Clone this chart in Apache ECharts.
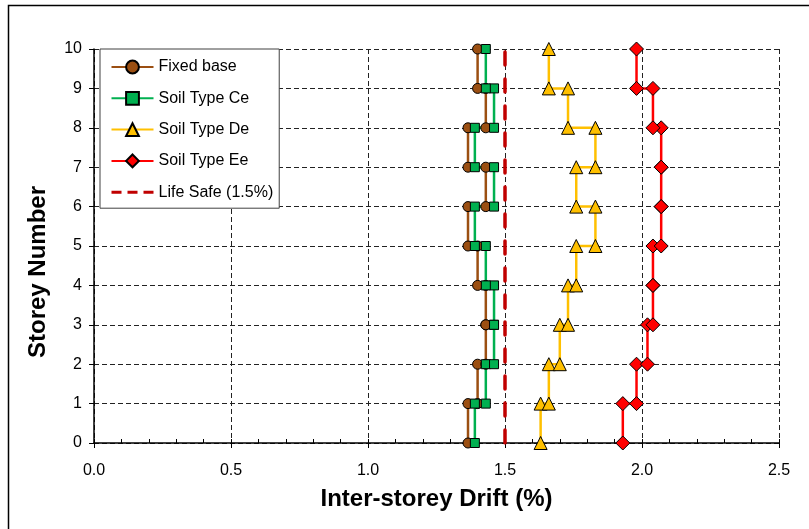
<!DOCTYPE html>
<html>
<head>
<meta charset="utf-8">
<script src="https://cdn.jsdelivr.net/npm/echarts@6/dist/echarts.min.js"></script>
<style>
  html, body { margin: 0; padding: 0; background: #fff; }
  #chart { width: 809px; height: 529px; }
</style>
</head>
<body>
<div id="chart"></div>
<script>
// storey numbers and inter-storey drift (%) for each storey
var storeys = [1, 2, 3, 4, 5, 6, 7, 8, 9, 10];
var fixedBase = [1.365, 1.40, 1.43, 1.43, 1.40, 1.365, 1.43, 1.365, 1.43, 1.40];
var soilCe = [1.39, 1.43, 1.46, 1.46, 1.43, 1.39, 1.46, 1.39, 1.46, 1.43];
var soilDe = [1.63, 1.66, 1.70, 1.73, 1.76, 1.83, 1.76, 1.83, 1.73, 1.66];
var soilEe = [1.93, 1.98, 2.02, 2.04, 2.04, 2.07, 2.07, 2.07, 2.04, 1.98];
var lifeSafe = 1.5;
var storeyMin = 0, storeyMax = 10;

var font = '"Liberation Sans", Arial, sans-serif';

// each storey drawn as a vertical step from floor below to floor above
function stepData(d) {
    var out = [];
    for (var i = 0; i < storeys.length; i++) {
        out.push([d[i], storeys[i] - 1]);
        out.push([d[i], storeys[i]]);
    }
    return out;
}

function stepSeries(name, data, color, symbol, size) {
    return {
        name: name,
        type: 'line',
        data: stepData(data),
        symbol: symbol,
        symbolSize: size,
        lineStyle: { color: color, width: 2.5 },
        itemStyle: { color: color, borderColor: '#000', borderWidth: 1 },
        emphasis: { disabled: true },
        animation: false
    };
}

var myChart = echarts.init(document.getElementById('chart'));
var option = {
    backgroundColor: '#fff',
    textStyle: { fontFamily: font },
    grid: { left: 94, right: 30, top: 49, bottom: 86 },
    legend: {
        orient: 'vertical',
        left: 100,
        top: 49,
        padding: [10, 6, 8, 10],
        itemWidth: 42,
        itemHeight: 16,
        itemGap: 15.3,
        backgroundColor: '#fff',
        borderColor: '#404040',
        borderWidth: 1,
        textStyle: { fontSize: 16, color: '#000', fontFamily: font },
        data: [
            'Fixed base', 'Soil Type Ce', 'Soil Type De', 'Soil Type Ee',
            { name: 'Life Safe (1.5%)', itemStyle: { opacity: 0 }, lineStyle: { type: [10, 6], width: 3, cap: 'butt' } }
        ]
    },
    xAxis: [{
        type: 'value',
        min: 0,
        max: 2.5,
        interval: 0.5,
        name: 'Inter-storey Drift (%)',
        nameLocation: 'middle',
        nameGap: 44,
        nameTextStyle: { fontSize: 24, fontWeight: 'bold', color: '#000', fontFamily: font },
        axisLine: { lineStyle: { color: '#000', width: 1.5 } },
        axisTick: { show: true, length: 5, lineStyle: { color: '#000' } },
        axisLabel: {
            fontSize: 16, color: '#000', margin: 20,
            formatter: function (v) { return v.toFixed(1); }
        },
        splitLine: { show: true, lineStyle: { color: '#222', type: [5, 3], width: 1 } }
    }, {
        // minor ticks pointing into the plot
        type: 'value',
        position: 'top',
        offset: -394,
        min: 0,
        max: 2.5,
        interval: 0.1,
        axisLine: { show: false },
        axisTick: { show: true, length: 4, lineStyle: { color: '#000' } },
        axisLabel: { show: false },
        splitLine: { show: false }
    }],
    yAxis: {
        type: 'value',
        min: storeyMin,
        max: storeyMax,
        interval: 1,
        axisLine: { show: true, lineStyle: { color: '#000', width: 1.5 } },
        axisTick: { show: true, length: 5, lineStyle: { color: '#000' } },
        axisLabel: { fontSize: 16, color: '#000', margin: 12 },
        splitLine: { show: true, lineStyle: { color: '#222', type: [5, 3], width: 1 } }
    },
    graphic: [
        {
            type: 'rect',
            shape: { x: 8.5, y: 5.5, width: 820, height: 560 },
            style: { fill: 'none', stroke: '#000', lineWidth: 1.5 },
            silent: true
        },
        {
            type: 'text',
            x: 38,
            y: 272,
            rotation: Math.PI / 2,
            style: {
                text: 'Storey Number',
                font: 'bold 24px ' + font,
                fill: '#000',
                align: 'center',
                verticalAlign: 'middle'
            },
            silent: true
        }
    ],
    series: [
        stepSeries('Fixed base', fixedBase, '#9B4F12', 'circle', 10),
        stepSeries('Soil Type Ce', soilCe, '#00B050', 'rect', 9),
        stepSeries('Soil Type De', soilDe, '#FFC000', 'triangle', 13),
        stepSeries('Soil Type Ee', soilEe, '#FF0000', 'diamond', 14),
        {
            name: 'Life Safe (1.5%)',
            type: 'line',
            data: [[lifeSafe, storeyMin], [lifeSafe, storeyMax]],
            symbol: 'none',
            lineStyle: { color: '#C00000', width: 3.5, type: [13, 14], cap: 'round' },
            itemStyle: { color: '#C00000' },
            emphasis: { disabled: true },
            animation: false
        }
    ]
};
myChart.setOption(option);
</script>
</body>
</html>
